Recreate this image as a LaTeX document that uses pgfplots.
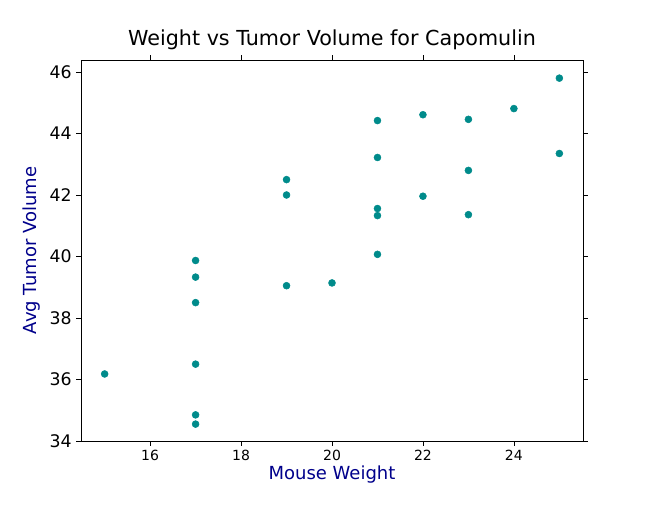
\documentclass[border=0pt]{standalone}
\usepackage{pgfplots}
\pgfplotsset{compat=1.18}
\usepackage{fontspec}
\setmainfont{DejaVu Sans}
\definecolor{dcyan}{RGB}{0,139,139}
\definecolor{navy}{RGB}{0,0,139}
\begin{document}
\begin{tikzpicture}
\useasboundingbox (-60.75pt,-47.25pt) rectangle (425.25pt,330.75pt);
\begin{axis}[
  at={(0,0)}, anchor=south west,
  scale only axis, width=376.5pt, height=285.75pt,
  xmin=14.48, xmax=25.52, ymin=34, ymax=46.39,
  xtick={16,18,...,24}, ytick={34,36,...,46},
  /pgf/number format/assume math mode=true,
  tick label style={font=\fontsize{13}{15}\selectfont},
  xticklabel style={font=\fontsize{10.5}{12}\selectfont},
  title={Weight vs Tumor Volume for Capomulin},
  title style={font=\fontsize{15.5}{18}\selectfont, yshift=-2pt},
  xlabel={Mouse Weight}, ylabel={Avg Tumor Volume},
  label style={font=\fontsize{13.5}{16}\selectfont, text=navy},
  xlabel style={yshift=3pt},
  tick align=outside, tick style={black},
  major tick length=3.5pt,
]
\addplot[only marks, mark=*, mark size=2.6pt, dcyan, mark options={fill=dcyan, draw=dcyan}] coordinates {
(15,36.18) (17,39.87) (17,39.33) (17,38.5) (17,36.5) (17,34.85) (17,34.55)
(19,42.5) (19,42.0) (19,39.05) (20,39.14)
(21,44.42) (21,43.22) (21,41.56) (21,41.33) (21,40.07)
(22,44.61) (22,41.96) (23,44.46) (23,42.80) (23,41.36)
(24,44.81) (25,45.80) (25,43.35)
};
\end{axis}
\end{tikzpicture}
\end{document}
